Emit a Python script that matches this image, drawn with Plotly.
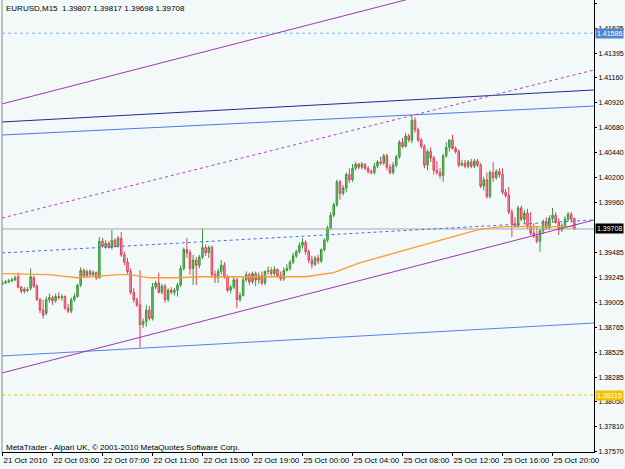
import plotly.graph_objects as go

# ---------------- data (EURUSD M15) ----------------
open_ = [
    1.3918, 1.3919, 1.3920, 1.3921, 1.3922, 1.3925, 1.3915, 1.3911, 1.3913, 1.3914,
    1.3924, 1.3916, 1.3903, 1.3893, 1.3890, 1.3903, 1.3905, 1.3902, 1.3906, 1.3905,
    1.3906, 1.3895, 1.3892, 1.3903, 1.3906, 1.3917, 1.3931, 1.3926, 1.3930, 1.3927,
    1.3929, 1.3924, 1.3959, 1.3954, 1.3957, 1.3953, 1.3960, 1.3954, 1.3962, 1.3946,
    1.3939, 1.3930, 1.3910, 1.3903, 1.3898, 1.3879, 1.3882, 1.3893, 1.3885, 1.3915,
    1.3919, 1.3910, 1.3916, 1.3903, 1.3912, 1.3910, 1.3912, 1.3917, 1.3933, 1.3951,
    1.3948, 1.3933, 1.3941, 1.3936, 1.3944, 1.3953, 1.3948, 1.3953, 1.3927, 1.3924,
    1.3930, 1.3936, 1.3925, 1.3912, 1.3915, 1.3922, 1.3903, 1.3907, 1.3922, 1.3927,
    1.3920, 1.3928, 1.3922, 1.3926, 1.3919, 1.3930, 1.3931, 1.3928, 1.3932, 1.3926,
    1.3923, 1.3931, 1.3933, 1.3939, 1.3945, 1.3949, 1.3955, 1.3958, 1.3949, 1.3941,
    1.3937, 1.3943, 1.3940, 1.3951, 1.3960, 1.3972, 1.3984, 1.3994, 1.4016, 1.4005,
    1.4010, 1.4023, 1.4018, 1.4029, 1.4033, 1.4030, 1.4033, 1.4029, 1.4026, 1.4025,
    1.4031, 1.4035, 1.4034, 1.4041, 1.4030, 1.4025, 1.4032, 1.4040, 1.4054, 1.4050,
    1.4060, 1.4056, 1.4075, 1.4066, 1.4056, 1.4050, 1.4032, 1.4045, 1.4039, 1.4027,
    1.4025, 1.4022, 1.4041, 1.4049, 1.4056, 1.4048, 1.4045, 1.4032, 1.4034, 1.4031,
    1.4035, 1.4031, 1.4036, 1.4032, 1.4012, 1.4018, 1.4002, 1.4025, 1.4020, 1.4026,
    1.4023, 1.4006, 1.4003, 1.3987, 1.3976, 1.3974, 1.3991, 1.3980, 1.3986, 1.3973,
    1.3967, 1.3964, 1.3959, 1.3969, 1.3978, 1.3972, 1.3981, 1.3984, 1.3977, 1.3970,
    1.3974, 1.3980, 1.3985, 1.39807,
]
high = [
    1.3921, 1.3922, 1.3923, 1.3924, 1.3926, 1.3929, 1.3916, 1.3915, 1.3915, 1.3933,
    1.3926, 1.3918, 1.3905, 1.3903, 1.3906, 1.3909, 1.3907, 1.3909, 1.3910, 1.3908,
    1.3907, 1.3899, 1.3905, 1.3909, 1.3918, 1.3934, 1.3933, 1.3932, 1.3932, 1.3931,
    1.3930, 1.3963, 1.3962, 1.3960, 1.3959, 1.3970, 1.3962, 1.3964, 1.3968, 1.3949,
    1.3943, 1.3933, 1.3914, 1.3905, 1.3931, 1.3885, 1.3898, 1.3897, 1.3919, 1.3921,
    1.3929, 1.3918, 1.3918, 1.3914, 1.3915, 1.3914, 1.3919, 1.3936, 1.3953, 1.3962,
    1.3951, 1.3946, 1.3944, 1.3946, 1.3971, 1.3956, 1.3955, 1.3955, 1.3931, 1.3933,
    1.3941, 1.3939, 1.3927, 1.3917, 1.3925, 1.3924, 1.3910, 1.3925, 1.3930, 1.3929,
    1.3930, 1.3930, 1.3929, 1.3930, 1.3931, 1.3935, 1.3934, 1.3935, 1.3933, 1.3930,
    1.3934, 1.3937, 1.3941, 1.3948, 1.3951, 1.3958, 1.3962, 1.3960, 1.3951, 1.3945,
    1.3945, 1.3946, 1.3952, 1.3962, 1.3974, 1.3987, 1.3996, 1.4018, 1.4018, 1.4013,
    1.4025, 1.4029, 1.4033, 1.4035, 1.4034, 1.4035, 1.4034, 1.4031, 1.4028, 1.4034,
    1.4037, 1.4040, 1.4043, 1.4043, 1.4033, 1.4035, 1.4042, 1.4056, 1.4058, 1.4063,
    1.4062, 1.4079, 1.4078, 1.4068, 1.4058, 1.4052, 1.4047, 1.4049, 1.4041, 1.4036,
    1.4029, 1.4043, 1.4054, 1.4057, 1.4061, 1.4050, 1.4047, 1.4037, 1.4037, 1.4037,
    1.4038, 1.4038, 1.4038, 1.4034, 1.4021, 1.4025, 1.4027, 1.4035, 1.4028, 1.4029,
    1.4029, 1.4009, 1.4011, 1.3990, 1.3982, 1.3993, 1.3993, 1.3989, 1.3990, 1.3987,
    1.3976, 1.3973, 1.3971, 1.3980, 1.3982, 1.3984, 1.3991, 1.3987, 1.3981, 1.3976,
    1.3983, 1.3987, 1.3987, 1.39817,
]
low = [
    1.3917, 1.3918, 1.3919, 1.3920, 1.3921, 1.3914, 1.3909, 1.3909, 1.3910, 1.3912,
    1.3914, 1.3902, 1.3890, 1.3885, 1.3888, 1.3900, 1.3898, 1.3900, 1.3903, 1.3902,
    1.3893, 1.3890, 1.3890, 1.3901, 1.3905, 1.3915, 1.3924, 1.3924, 1.3925, 1.3925,
    1.3922, 1.3923, 1.3953, 1.3952, 1.3952, 1.3951, 1.3953, 1.3953, 1.3944, 1.3936,
    1.3928, 1.3908, 1.3900, 1.3896, 1.3857, 1.3876, 1.3877, 1.3883, 1.3883, 1.3913,
    1.3909, 1.3908, 1.3900, 1.3901, 1.3908, 1.3907, 1.3906, 1.3915, 1.3931, 1.3943,
    1.3927, 1.3917, 1.3917, 1.3933, 1.3942, 1.3945, 1.3943, 1.3924, 1.3919, 1.3919,
    1.3927, 1.3923, 1.3910, 1.3909, 1.3913, 1.3895, 1.3901, 1.3906, 1.3920, 1.3917,
    1.3918, 1.3916, 1.3918, 1.3917, 1.3917, 1.3927, 1.3926, 1.3926, 1.3924, 1.3921,
    1.3921, 1.3930, 1.3931, 1.3937, 1.3943, 1.3947, 1.3952, 1.3946, 1.3938, 1.3933,
    1.3935, 1.3937, 1.3938, 1.3949, 1.3958, 1.3970, 1.3982, 1.3992, 1.3999, 1.4003,
    1.4006, 1.4015, 1.4016, 1.4027, 1.4028, 1.4028, 1.4027, 1.4024, 1.4023, 1.4023,
    1.4029, 1.4032, 1.4032, 1.4027, 1.4023, 1.4023, 1.4030, 1.4038, 1.4048, 1.4049,
    1.4054, 1.4053, 1.4063, 1.4054, 1.4048, 1.4029, 1.4027, 1.4035, 1.4023, 1.4023,
    1.4019, 1.4016, 1.4039, 1.4045, 1.4047, 1.4043, 1.4030, 1.4031, 1.4029, 1.4029,
    1.4029, 1.4029, 1.4030, 1.4010, 1.4008, 1.4000, 1.4000, 1.4016, 1.4018, 1.4020,
    1.4004, 1.4001, 1.3985, 1.3963, 1.3972, 1.3972, 1.3978, 1.3976, 1.3971, 1.3965,
    1.3962, 1.3957, 1.3949, 1.3966, 1.3970, 1.3970, 1.3977, 1.3976, 1.3965, 1.3968,
    1.3972, 1.3978, 1.3977, 1.39698,
]
close = [
    1.3919, 1.3920, 1.3921, 1.3922, 1.3924, 1.3915, 1.3911, 1.3913, 1.3912, 1.3925,
    1.3916, 1.3903, 1.3893, 1.3888, 1.3903, 1.3905, 1.3902, 1.3906, 1.3905, 1.3906,
    1.3895, 1.3892, 1.3903, 1.3906, 1.3917, 1.3931, 1.3926, 1.3930, 1.3927, 1.3929,
    1.3924, 1.3959, 1.3954, 1.3957, 1.3953, 1.3960, 1.3954, 1.3962, 1.3946, 1.3939,
    1.3930, 1.3910, 1.3903, 1.3898, 1.3879, 1.3882, 1.3893, 1.3885, 1.3915, 1.3919,
    1.3910, 1.3916, 1.3903, 1.3912, 1.3910, 1.3912, 1.3917, 1.3933, 1.3951, 1.3948,
    1.3933, 1.3941, 1.3936, 1.3944, 1.3953, 1.3948, 1.3953, 1.3927, 1.3924, 1.3930,
    1.3936, 1.3925, 1.3912, 1.3915, 1.3922, 1.3903, 1.3907, 1.3922, 1.3927, 1.3920,
    1.3928, 1.3922, 1.3926, 1.3919, 1.3930, 1.3931, 1.3928, 1.3932, 1.3926, 1.3923,
    1.3931, 1.3933, 1.3939, 1.3945, 1.3949, 1.3955, 1.3958, 1.3949, 1.3941, 1.3937,
    1.3943, 1.3940, 1.3951, 1.3960, 1.3972, 1.3984, 1.3994, 1.4016, 1.4005, 1.4010,
    1.4023, 1.4018, 1.4029, 1.4033, 1.4030, 1.4033, 1.4029, 1.4026, 1.4025, 1.4031,
    1.4035, 1.4034, 1.4041, 1.4030, 1.4025, 1.4032, 1.4040, 1.4054, 1.4050, 1.4060,
    1.4056, 1.4075, 1.4066, 1.4056, 1.4050, 1.4032, 1.4045, 1.4039, 1.4027, 1.4025,
    1.4022, 1.4041, 1.4049, 1.4056, 1.4048, 1.4045, 1.4032, 1.4034, 1.4031, 1.4035,
    1.4031, 1.4036, 1.4032, 1.4012, 1.4018, 1.4002, 1.4025, 1.4020, 1.4026, 1.4023,
    1.4006, 1.4003, 1.3987, 1.3976, 1.3974, 1.3991, 1.3980, 1.3986, 1.3973, 1.3967,
    1.3964, 1.3959, 1.3969, 1.3978, 1.3972, 1.3981, 1.3984, 1.3977, 1.3970, 1.3974,
    1.3980, 1.3985, 1.3980, 1.39708,
]
bars = list(range(len(close)))

# moving average (orange) read at selected bars
ma_bar = [0, 15, 24, 29, 37, 41, 47, 56, 63, 79, 97, 106, 114, 127, 142, 152, 157, 161, 183]
ma_val = [1.3928, 1.3927, 1.3924, 1.3925, 1.3927, 1.3927, 1.3924, 1.3924, 1.3925, 1.3925,
          1.3925, 1.3929, 1.3938, 1.3949, 1.3962, 1.3970, 1.3972, 1.3973, 1.3973]

# trend lines: price at left edge and at right edge of the chart
X_LEFT, X_RIGHT = -0.16, 189.28
trend_purple_top = [1.40907, 1.42371]
trend_purple_mid = [1.39813, 1.41233]
trend_purple_low = [1.38327, 1.39794]
trend_navy = [1.40734, 1.41041]
trend_blue_upper = [1.40609, 1.40887]
trend_blue_lower = [1.38490, 1.38806]
trend_blue_dash = [1.39478, 1.39794]

level_blue = 1.41586
level_yellow = 1.38115
bid = 1.39708

y_ticks = [1.41875, 1.41635, 1.41395, 1.41160, 1.40920, 1.40680, 1.40440, 1.40200, 1.39960,
           1.39485, 1.39245, 1.39005, 1.38765, 1.38525, 1.38285, 1.38050, 1.37810, 1.37570]
x_tick_bars = [0, 16, 32, 48, 64, 80, 96, 112, 128, 144, 160, 176]
x_tick_text = ["21 Oct 2010", "22 Oct 03:00", "22 Oct 07:00", "22 Oct 11:00", "22 Oct 15:00",
               "22 Oct 19:00", "25 Oct 00:00", "25 Oct 04:00", "25 Oct 08:00", "25 Oct 12:00",
               "25 Oct 16:00", "25 Oct 20:00"]
title_text = "EURUSD,M15\u00a0\u00a01.39807 1.39817 1.39698 1.39708"
footer_text = "MetaTrader - Alpari UK, © 2001-2010 MetaQuotes Software Corp."

Y_MIN, Y_MAX = 1.37569, 1.41904
FONT = "Liberation Sans, Arial, sans-serif"
BG = "#f3f9f9"
YFS = 7

fig = go.Figure()


def hline(level, color, dash, width=1):
    fig.add_trace(go.Scatter(x=[X_LEFT, X_RIGHT], y=[level, level], mode="lines",
                             line=dict(color=color, dash=dash, width=width),
                             hoverinfo="skip", showlegend=False))


def tline(vals, color, dash="solid", width=1):
    fig.add_trace(go.Scatter(x=[X_LEFT, X_RIGHT], y=vals, mode="lines",
                             line=dict(color=color, dash=dash, width=width),
                             hoverinfo="skip", showlegend=False))


hline(level_blue, "#7fb0e6", "dot")
hline(level_yellow, "#f2c200", "3px,3px")
hline(bid, "#a8a8a8", "solid")

tline(trend_blue_dash, "#4a6ee0", "3px,3px")
tline(trend_navy, "#26268e")
tline(trend_blue_upper, "#5078e2")
tline(trend_blue_lower, "#5a80e4")

fig.add_trace(go.Scatter(x=ma_bar, y=ma_val, mode="lines",
                         line=dict(color="#ff9a30", width=1.3), hoverinfo="skip", showlegend=False))

fig.add_trace(go.Candlestick(
    x=bars, open=open_, high=high, low=low, close=close,
    increasing=dict(line=dict(color="#3a983a", width=1), fillcolor="#72c272"),
    decreasing=dict(line=dict(color="#e23e5c", width=1), fillcolor="#f2a2b2"),
    whiskerwidth=0, hoverinfo="skip", showlegend=False,
))

tline(trend_purple_top, "#a234b4")
tline(trend_purple_mid, "#b040c0", "3px,3px")
tline(trend_purple_low, "#a234b4")

fig.update_layout(
    width=625, height=469,
    margin=dict(l=2, r=31, t=0, b=17),
    paper_bgcolor=BG, plot_bgcolor=BG,
    font=dict(family=FONT, size=8, color="#000"),
    showlegend=False,
    xaxis=dict(range=[X_LEFT, X_RIGHT], rangeslider=dict(visible=False),
               tickvals=x_tick_bars, ticktext=x_tick_text,
               ticklabelposition="outside right", tickangle=0, automargin=False,
               ticks="outside", ticklen=3, tickcolor="#000",
               showgrid=False, zeroline=False, showline=True, linecolor="#000", linewidth=1,
               tickfont=dict(family=FONT, size=8, color="#000")),
    yaxis=dict(range=[Y_MIN, Y_MAX], side="right", automargin=False,
               tickvals=y_ticks, ticktext=[f"{v:.5f}" for v in y_ticks],
               ticks="outside", ticklen=2, tickcolor="#000",
               showgrid=False, zeroline=False, showline=True, linecolor="#000", linewidth=1,
               tickfont=dict(family=FONT, size=YFS, color="#000")),
    shapes=[dict(type="line", xref="paper", yref="paper", x0=0, x1=0, y0=0, y1=1,
                 line=dict(color="#8a8a8a", width=1))],
)

annots = [
    dict(x=0.003, y=0.982, xref="paper", yref="paper", text=title_text, showarrow=False,
         xanchor="left", yanchor="middle", font=dict(family=FONT, size=8, color="#000")),
    dict(x=0.003, y=0.011, xref="paper", yref="paper", text=footer_text, showarrow=False,
         xanchor="left", yanchor="middle", font=dict(family=FONT, size=8, color="#000")),
]
for lvl, bgc, fc in [(level_blue, "#4f86cc", "#ffffff"), (level_yellow, "#f2c200", "#ffffff"),
                     (bid, "#000000", "#ffffff")]:
    annots.append(dict(x=1, y=lvl, xref="paper", yref="y", text=f"{lvl:.5f}", showarrow=False,
                       xanchor="left", yanchor="middle", xshift=1, bgcolor=bgc, borderpad=1,
                       font=dict(family=FONT, size=YFS, color=fc)))
fig.update_layout(annotations=annots)

fig.write_html("out.html")
